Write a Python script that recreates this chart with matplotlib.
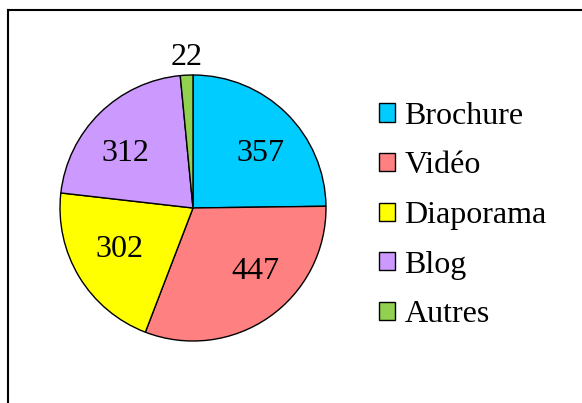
import matplotlib
matplotlib.use("Agg")
import matplotlib.pyplot as plt
import numpy as np

categories = ["Brochure", "Vidéo", "Diaporama", "Blog", "Autres"]
values = [357, 447, 302, 312, 22]
colors = ["#00CCFF", "#FF8080", "#FFFF00", "#CC99FF", "#92D050"]

# label placement (radius fraction, angle shift from bisector in degrees)
label_radius = [0.67, 0.65, 0.62, 0.67, 1.16]
label_shift = [-4.5, 11.0, -4.0, 5.0, -0.2]

plt.rcParams['font.family'] = ['Liberation Serif', 'DejaVu Serif']

W, H = 582, 403
fig = plt.figure(figsize=(W / 100, H / 100), dpi=100)

cx, cy, r = 193, 403 - 208, 133
ax = fig.add_axes([(cx - r) / W, (cy - r) / H, 2 * r / W, 2 * r / H])

wedges, texts, autotexts = ax.pie(
    values, colors=colors, startangle=90, counterclock=False,
    wedgeprops=dict(edgecolor="black", linewidth=1.0),
    autopct=lambda p: "{:.0f}".format(p * sum(values) / 100.0),
    pctdistance=0.68, textprops=dict(fontsize=23, color="black"))
ax.set_xlim(-1, 1)
ax.set_ylim(-1, 1)
ax.set_aspect("equal")
ax.axis("off")

for w, t, rr, sh in zip(wedges, autotexts, label_radius, label_shift):
    t.set_clip_on(False)
    t.set_va("center_baseline")
    ang = np.deg2rad((w.theta1 + w.theta2) / 2.0 + sh)
    t.set_position((rr * np.cos(ang), rr * np.sin(ang)))

leg = fig.legend(wedges, categories, loc="upper left",
                 bbox_to_anchor=(366 / W, 1 - 89 / H), frameon=False,
                 fontsize=23, handlelength=0.5, handleheight=0.5,
                 handletextpad=0.3, labelspacing=0.645, borderaxespad=0)

fig.add_artist(plt.Line2D([8 / W, 1.0], [1 - 10 / H, 1 - 10 / H],
                          transform=fig.transFigure, color="black", lw=1.5))
fig.add_artist(plt.Line2D([8 / W, 8 / W], [1 - 10 / H, 0.0],
                          transform=fig.transFigure, color="black", lw=1.5))

fig.savefig("out.png", dpi=100)
